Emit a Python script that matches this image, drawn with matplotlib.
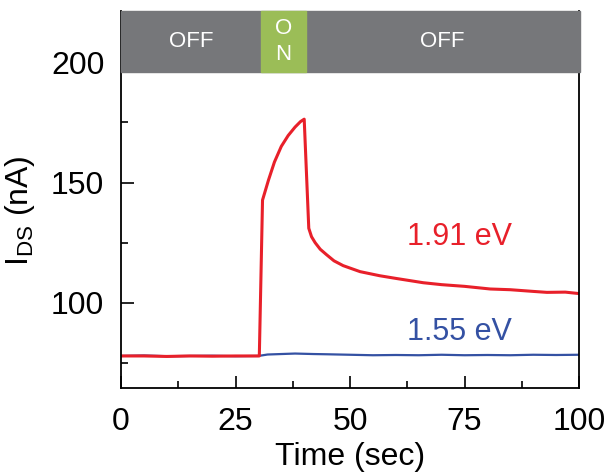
"""Photocurrent I_DS vs time, ON/OFF illumination bar on top."""
import numpy as np
import matplotlib
matplotlib.use("Agg")
import matplotlib.pyplot as plt
from matplotlib.patches import Rectangle

plt.rcParams["font.family"] = ["Liberation Sans", "DejaVu Sans"]
plt.rcParams["mathtext.default"] = "regular"

# 1.91 eV trace (red)
t_red = [0, 5, 10, 15, 20, 25, 30.2, 30.9, 32.2, 33.5, 35, 36.5, 38, 39.2, 40, 41, 41.6,
         42.4, 43.5, 44.9, 46.5, 48.5, 52.2, 56.5, 60, 66, 70, 75, 80.6, 85, 90, 93, 97, 100]
i_red = [78, 78, 77.8, 78, 77.9, 78, 78, 142.7, 151, 158.5, 165, 169.5, 173, 175.3, 176.3,
         131, 127.5, 125, 122.3, 120, 117.5, 115.5, 113, 111.3, 110.2, 108.4, 107.6, 106.9,
         105.8, 105.5, 104.8, 104.4, 104.5, 103.9]
# 1.55 eV trace (blue)
t_blue = [0, 5, 10, 15, 20, 25, 30, 32, 35, 38, 42, 45, 50, 55, 60, 65, 70, 75, 80, 85, 90, 95, 100]
i_blue = [78, 78.2, 77.9, 78, 78.1, 77.9, 78, 78.6, 78.8, 79, 78.8, 78.7, 78.5, 78.3, 78.4,
          78.3, 78.5, 78.3, 78.4, 78.3, 78.5, 78.4, 78.5]

xticks = [0, 25, 50, 75, 100]
yticks = [100, 150, 200]

RED = "#e8202a"
BLUE = "#3451a3"
GREY = "#76777a"
GREEN = "#9bbd57"

fig = plt.figure(figsize=(6.1, 4.75), dpi=100)
ax = fig.add_axes([121 / 610, 1 - 388 / 475, 458 / 610, 377 / 475])

ax.plot(t_blue, i_blue, color=BLUE, lw=1.6, zorder=2)
ax.plot(t_red, i_red, color=RED, lw=2.2, zorder=2)

ax.set_xlim(0, 100)
ax.set_ylim(64.7, 221.2)
ax.set_xticks(xticks)
ax.set_yticks(yticks)
ax.set_xticks([12.5, 37.5, 62.5, 87.5], minor=True)
ax.set_yticks([75, 125, 175], minor=True)
ax.tick_params(which="both", direction="in", labelsize=23, width=1.2)
ax.tick_params(axis="y", pad=12)
ax.tick_params(axis="x", pad=14)
ax.tick_params(which="major", length=9)
ax.tick_params(which="minor", length=5)
for s in ax.spines.values():
    s.set_linewidth(1.3)
ax.spines["top"].set_visible(False)

# illumination bar
bar_lo, bar_hi = 195.8, 221.2
on0, on1 = 30.5, 40.3
ax.add_patch(Rectangle((0, bar_lo), 100.2, bar_hi - bar_lo, color=GREY, zorder=5, clip_on=False))
ax.add_patch(Rectangle((on0, bar_lo), on1 - on0, bar_hi - bar_lo, color=GREEN, zorder=6, clip_on=False))
ymid = (bar_lo + bar_hi) / 2
ax.text(on0 / 2, ymid, "OFF", color="white", fontsize=16, ha="center", va="center", zorder=7)
ax.text((on1 + 100) / 2, ymid, "OFF", color="white", fontsize=16, ha="center", va="center", zorder=7)
ax.text((on0 + on1) / 2, ymid, "O\nN", color="white", fontsize=16, ha="center", va="center",
        linespacing=1.3, zorder=7)

ax.text(74, 127.4, "1.91 eV", color=RED, fontsize=22, ha="center", va="center")
ax.text(74, 88, "1.55 eV", color=BLUE, fontsize=22, ha="center", va="center")

ax.set_xlabel("Time (sec)", fontsize=23)
ax.set_ylabel("I$_{DS}$ (nA)", fontsize=23)
ax.xaxis.set_label_coords(0.5, -0.143)
ax.yaxis.set_label_coords(-0.183, 0.47)

fig.savefig("out.png", dpi=100)
